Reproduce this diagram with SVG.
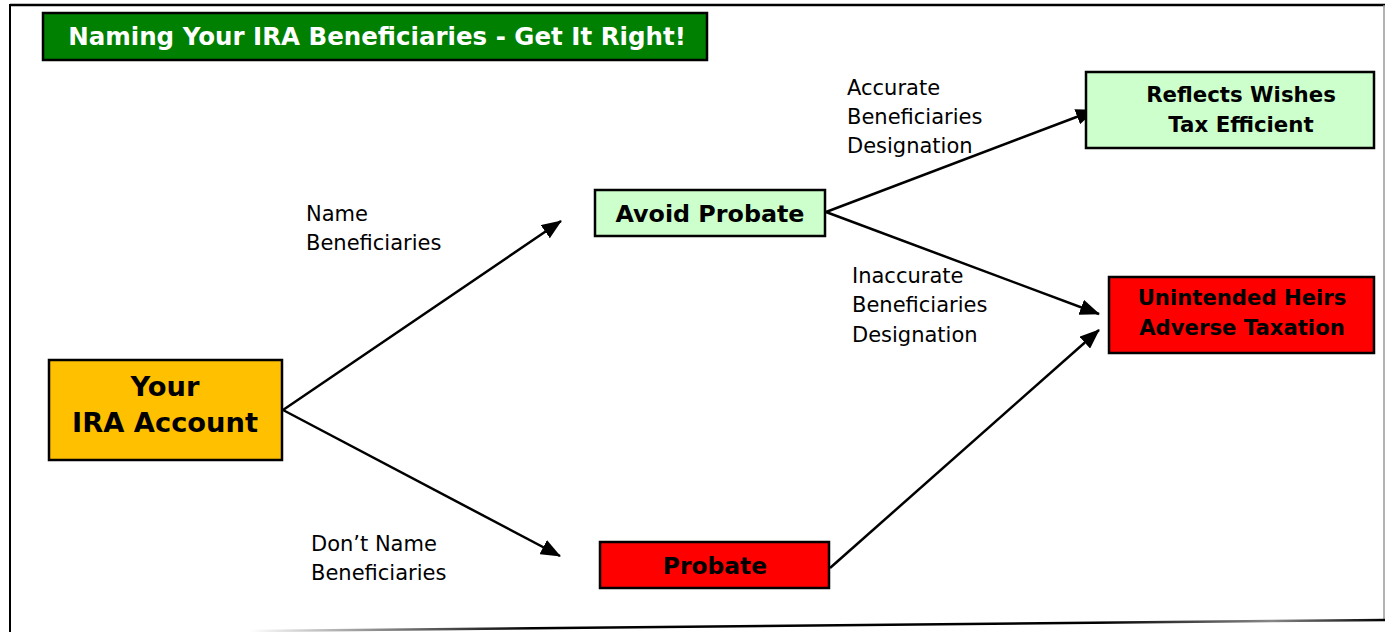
<svg xmlns="http://www.w3.org/2000/svg" width="1385" height="632" viewBox="0 0 1385 632">
<defs>
<marker id="arrow" markerWidth="20" markerHeight="16" refX="19" refY="8" orient="auto" markerUnits="userSpaceOnUse">
<path d="M0,0 L20,8 L0,16 Z" fill="#000"/>
</marker>
<linearGradient id="bot" x1="0" y1="0" x2="1" y2="0">
<stop offset="0" stop-color="#fff"/>
<stop offset="0.25" stop-color="#000"/>
<stop offset="0.75" stop-color="#000"/>
<stop offset="0.9" stop-color="#888"/>
<stop offset="1" stop-color="#000"/>
</linearGradient>
</defs>
<style>
.box{stroke:#000;stroke-width:2.5}
.t{font-family:"DejaVu Sans",Verdana,sans-serif;font-weight:bold;fill:#000;text-anchor:middle}
.lbl{font-family:"DejaVu Sans",Verdana,sans-serif;font-size:21px;fill:#000}
.c{fill:none;stroke:#000;stroke-width:2.5;marker-end:url(#arrow)}
</style>
<rect width="1385" height="632" fill="#fff"/>
<g id="frame">
<line x1="10" y1="5" x2="1385" y2="5" stroke="#000" stroke-width="2.5"/>
<line x1="10" y1="4" x2="10" y2="632" stroke="#000" stroke-width="2"/>
<line x1="1384" y1="5" x2="1384" y2="620" stroke="#999" stroke-width="1.5"/>
<line x1="250" y1="631" x2="1385" y2="620" stroke="url(#bot)" stroke-width="2.5"/>
</g>
<g id="title">
<rect class="box" x="43" y="13" width="664" height="47" fill="#008000"/>
<text class="t" x="377" y="45" font-size="24.5" style="fill:#fff">Naming Your IRA Beneficiaries - Get It Right!</text>
</g>
<g id="connectors">
<line class="c" x1="283" y1="410" x2="561" y2="221"/>
<line class="c" x1="283" y1="410" x2="560" y2="556"/>
<line class="c" x1="826" y1="212" x2="1095" y2="110"/>
<line class="c" x1="826" y1="212" x2="1099" y2="314"/>
<line class="c" x1="830" y1="568" x2="1099" y2="330"/>
</g>
<g id="lbl-name">
<text class="lbl" x="306" y="221">Name</text>
<text class="lbl" x="306" y="250">Beneficiaries</text>
</g>
<g id="lbl-dont">
<text class="lbl" x="311" y="551">Don’t Name</text>
<text class="lbl" x="311" y="580">Beneficiaries</text>
</g>
<g id="lbl-accurate">
<text class="lbl" x="847" y="95">Accurate</text>
<text class="lbl" x="847" y="124">Beneficiaries</text>
<text class="lbl" x="847" y="153">Designation</text>
</g>
<g id="lbl-inaccurate">
<text class="lbl" x="852" y="283">Inaccurate</text>
<text class="lbl" x="852" y="312">Beneficiaries</text>
<text class="lbl" x="852" y="342">Designation</text>
</g>
<g id="ira">
<rect class="box" x="49" y="360" width="233" height="100" fill="#FFC000"/>
<text class="t" x="165" y="396" font-size="27.3">Your</text>
<text class="t" x="165" y="432" font-size="27.3">IRA Account</text>
</g>
<g id="avoid">
<rect class="box" x="595" y="190" width="230" height="46" fill="#CCFFCC"/>
<text class="t" x="710" y="222" font-size="23.8">Avoid Probate</text>
</g>
<g id="reflects">
<rect class="box" x="1086" y="72" width="288" height="76" fill="#CCFFCC"/>
<text class="t" x="1241" y="102" font-size="21.3">Reflects Wishes</text>
<text class="t" x="1241" y="132" font-size="21.3">Tax Efficient</text>
</g>
<g id="unintended">
<rect class="box" x="1109" y="277" width="265" height="76" fill="#FF0000"/>
<text class="t" x="1242" y="305" font-size="21.2">Unintended Heirs</text>
<text class="t" x="1242" y="335" font-size="21.2">Adverse Taxation</text>
</g>
<g id="probate">
<rect class="box" x="600" y="542" width="229" height="46" fill="#FF0000"/>
<text class="t" x="715" y="574" font-size="23.4">Probate</text>
</g>
</svg>
